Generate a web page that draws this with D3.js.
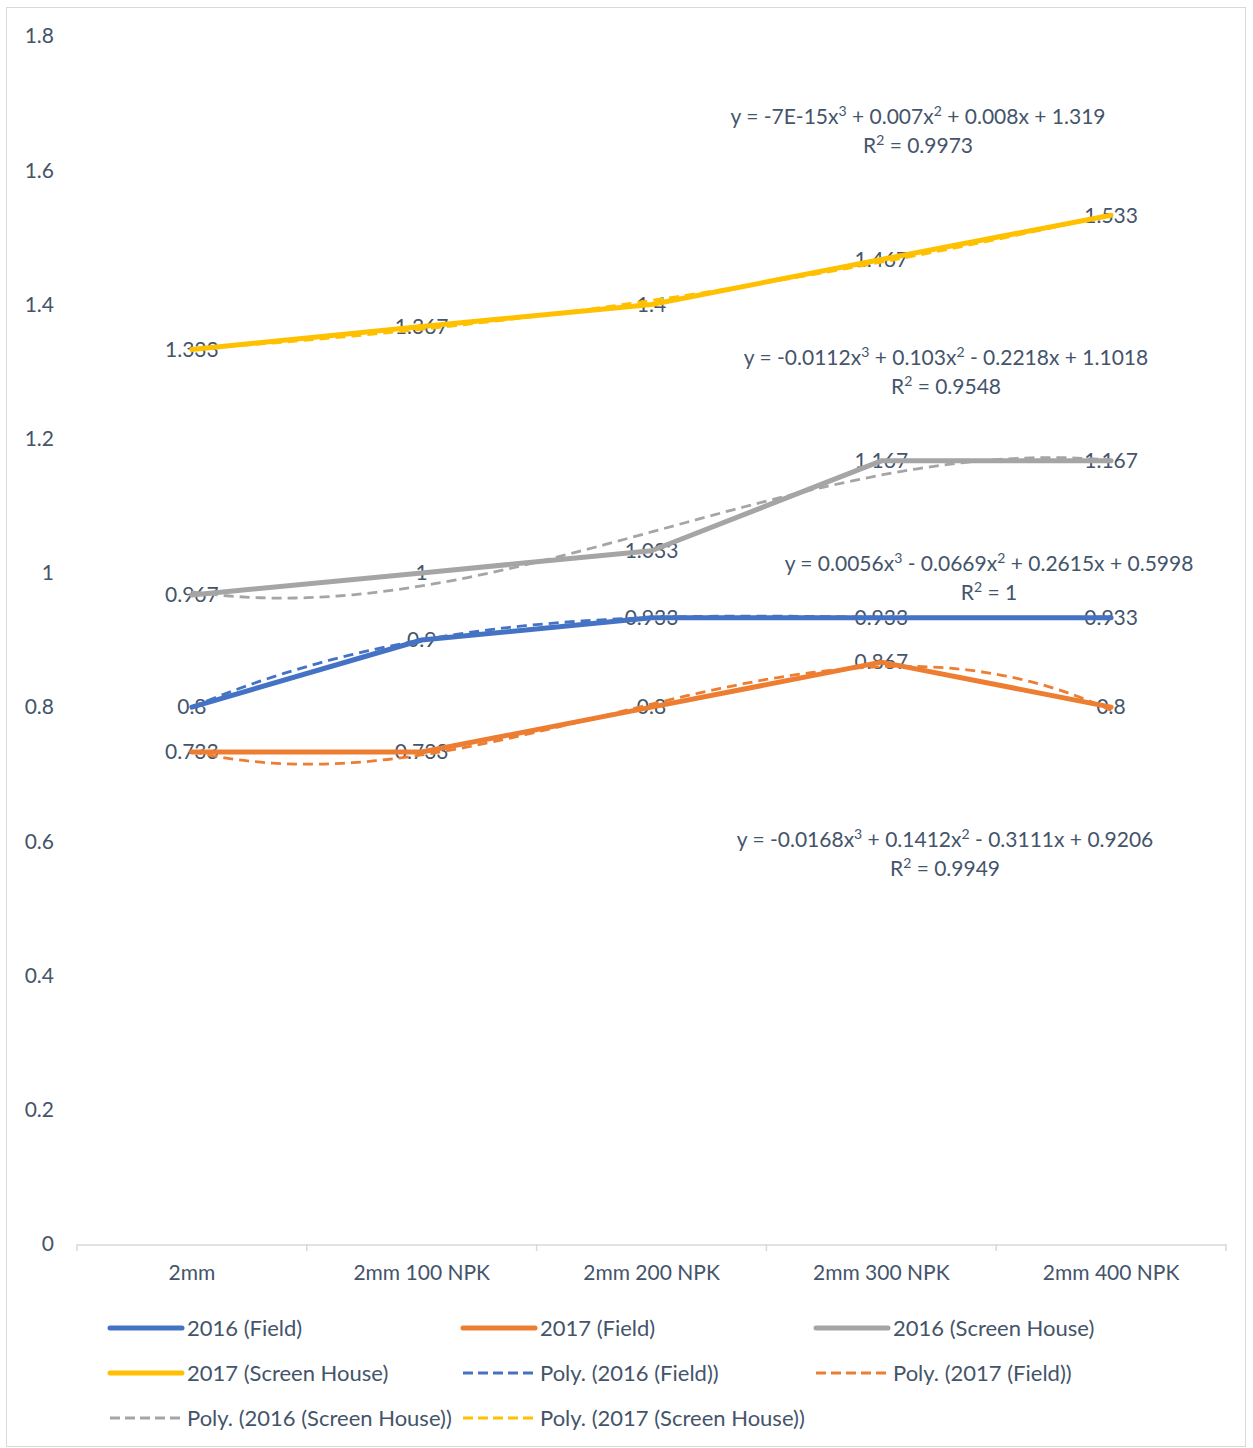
<!DOCTYPE html>
<html><head><meta charset="utf-8">
<script src="https://cdn.jsdelivr.net/npm/d3@7"></script>
<style>body{margin:0;background:#fff}svg{display:block}text{font-family:Lato,"Open Sans",sans-serif;fill:#44546A}</style>
</head><body>
<svg id="c" width="1253" height="1448"></svg>
<script>
const categories = ["2mm","2mm 100 NPK","2mm 200 NPK","2mm 300 NPK","2mm 400 NPK"];
const seriesNames = ["2016 (Field)","2017 (Field)","2016 (Screen House)","2017 (Screen House)"];
const field2016 = [0.8,0.9,0.933,0.933,0.933];
const field2017 = [0.733,0.733,0.8,0.867,0.8];
const screen2016 = [0.967,1,1.033,1.167,1.167];
const screen2017 = [1.333,1.367,1.4,1.467,1.533];
const colors = ["#4472C4","#ED7D31","#A5A5A5","#FFC000"];
// trendline coefficients [x^3, x^2, x, const] and equation texts
const polyField2016 = [0.0056,-0.0669,0.2615,0.5998];
const polyField2017 = [-0.0168,0.1412,-0.3111,0.9206];
const polyScreen2016 = [-0.0112,0.103,-0.2218,1.1018];
const polyScreen2017 = [-7e-15,0.007,0.008,1.319];
const eqField2016 = ["y = 0.0056x³ - 0.0669x² + 0.2615x + 0.5998","R² = 1"];
const eqField2017 = ["y = -0.0168x³ + 0.1412x² - 0.3111x + 0.9206","R² = 0.9949"];
const eqScreen2016 = ["y = -0.0112x³ + 0.103x² - 0.2218x + 1.1018","R² = 0.9548"];
const eqScreen2017 = ["y = -7E-15x³ + 0.007x² + 0.008x + 1.319","R² = 0.9973"];
const yTicks = [0,0.2,0.4,0.6,0.8,1,1.2,1.4,1.6,1.8];
const yTickLabels = ["0","0.2","0.4","0.6","0.8","1","1.2","1.4","1.6","1.8"];

const values = [field2016, field2017, screen2016, screen2017];
const polys = [polyField2016, polyField2017, polyScreen2016, polyScreen2017];
const eqs = [eqField2016, eqField2017, eqScreen2016, eqScreen2017];
const eqPos = [[989,564],[945,840],[946,358],[918,117]];
const FS = 21;

const svg = d3.select("#c");
svg.append("rect").attr("x",6.5).attr("y",7.5).attr("width",1239).attr("height",1439)
  .attr("fill","#fff").attr("stroke","#D9D9D9").attr("stroke-width",1);

const x = d3.scaleBand().domain(categories).range([77,1226]);
const y = d3.scaleLinear().domain([0,1.8]).range([1244,36]);
const cx = c => x(c) + x.bandwidth()/2;
const xNum = d3.scaleLinear().domain([1,5]).range([cx(categories[0]), cx(categories[4])]);

// y labels
svg.append("g").selectAll("text").data(yTicks).join("text")
  .attr("x",54).attr("y",d=>y(d)).attr("dy","0.35em").attr("text-anchor","end")
  .attr("font-size",FS).text((d,i)=>yTickLabels[i]);

// x axis
const xa = svg.append("g").attr("transform","translate(0,1244.5)")
  .call(d3.axisBottom(x).tickSize(0).tickPadding(21));
xa.select(".domain").attr("stroke","#D9D9D9").attr("stroke-width",1.5);
xa.selectAll("text").attr("font-size",FS).attr("font-family","Lato,sans-serif").attr("fill","#44546A");
const bounds = categories.map(c=>x(c)).concat([x(categories[4])+x.bandwidth()]);
svg.append("g").selectAll("line").data(bounds).join("line")
  .attr("x1",d=>d).attr("x2",d=>d).attr("y1",1244).attr("y2",1251)
  .attr("stroke","#D9D9D9").attr("stroke-width",1.5);

// data labels
values.forEach((vals)=>{
  svg.append("g").selectAll("text").data(vals).join("text")
    .attr("x",(d,i)=>cx(categories[i])).attr("y",d=>y(d)).attr("dy","0.35em")
    .attr("text-anchor","middle").attr("font-size",FS).text(d=>String(d));
});

// solid lines
const line = d3.line().x((d,i)=>cx(categories[i])).y(d=>y(d));
values.forEach((vals,k)=>{
  svg.append("path").datum(vals).attr("d",line).attr("fill","none")
    .attr("stroke",colors[k]).attr("stroke-width",5).attr("stroke-linejoin","round").attr("stroke-linecap","round");
});

// trendlines
const xs = d3.range(1,5.0001,0.05);
const pv = (p,t)=>p[0]*t*t*t+p[1]*t*t+p[2]*t+p[3];
const tline = d3.line().x(d=>xNum(d[0])).y(d=>y(d[1])).curve(d3.curveMonotoneX);
polys.forEach((p,k)=>{
  svg.append("path").datum(xs.map(t=>[t,pv(p,t)])).attr("d",tline).attr("fill","none")
    .attr("stroke",colors[k]).attr("stroke-width",2.8).attr("stroke-dasharray","10,6");
});

// equations with superscripts
function addSup(textSel, s){
  const parts = s.split(/([²³])/).filter(p=>p.length);
  let pending = 0;
  parts.forEach(p=>{
    if(p==="²"||p==="³"){
      textSel.append("tspan").attr("font-size",14).attr("dy",-8 + pending).text(p==="²"?"2":"3");
      pending = 8;
    } else {
      const ts = textSel.append("tspan").text(p);
      if(pending){ ts.attr("dy",pending); pending = 0; }
    }
  });
}
eqs.forEach((e,k)=>{
  const g = svg.append("g");
  e.forEach((s,j)=>{
    const t = g.append("text").attr("x",eqPos[k][0]).attr("y",eqPos[k][1]+j*29+7)
      .attr("text-anchor","middle").attr("font-size",FS);
    addSup(t,s);
  });
});

// legend
const legendItems = seriesNames.map((n,i)=>({name:n,color:colors[i],dash:false}))
  .concat(seriesNames.map((n,i)=>({name:"Poly. ("+n+")",color:colors[i],dash:true})));
const colX = [110,463,816], rowY = [1328,1373,1418];
legendItems.forEach((it,i)=>{
  const gx = colX[i%3], gy = rowY[Math.floor(i/3)];
  const g = svg.append("g");
  g.append("line").attr("x1",gx).attr("x2",gx+72).attr("y1",gy).attr("y2",gy)
    .attr("stroke",it.color).attr("stroke-width",it.dash?3:5)
    .attr("stroke-linecap",it.dash?"butt":"round").attr("stroke-dasharray",it.dash?"10,5":null);
  g.append("text").attr("x",gx+77).attr("y",gy).attr("dy","0.35em").attr("font-size",22).text(it.name);
});
</script>
</body></html>
